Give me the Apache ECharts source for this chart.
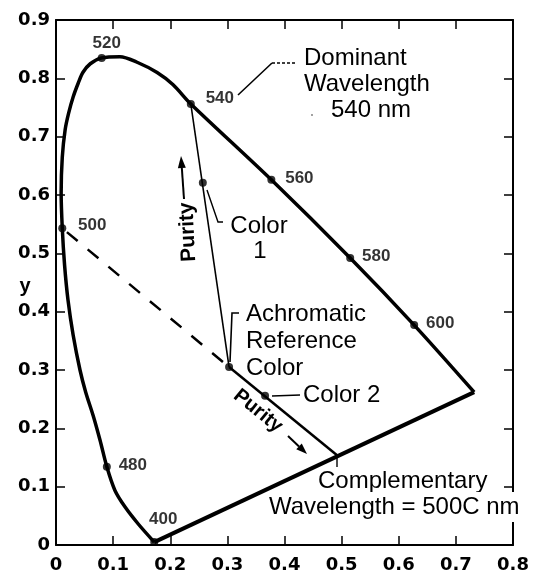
<!DOCTYPE html>
<html><head><meta charset="utf-8">
<script src="https://cdn.jsdelivr.net/npm/echarts@6/dist/echarts.min.js"></script>
<style>html,body{margin:0;padding:0;background:#fff}#c{width:534px;height:579px}</style>
</head><body><div id="c"></div>
<script>
// ---- data ----
const xTickValues = [0, 0.1, 0.2, 0.3, 0.4, 0.5, 0.6, 0.7, 0.8];
const yTickValues = [0, 0.1, 0.2, 0.3, 0.4, 0.5, 0.6, 0.7, 0.8, 0.9];
// spectral locus from 400 nm round to the red end
const locusX = [0.172,0.144,0.121,0.103,0.089,0.077,0.065,0.052,0.042,0.030,0.021,0.015,0.011,0.009,0.011,0.016,0.022,0.030,0.039,0.047,0.060,0.080,0.112,0.141,0.177,0.205,0.236,0.377,0.515,0.627,0.732];
const locusY = [0.005,0.036,0.065,0.094,0.134,0.180,0.222,0.262,0.300,0.360,0.420,0.480,0.543,0.604,0.665,0.712,0.740,0.768,0.792,0.810,0.825,0.835,0.837,0.828,0.810,0.789,0.756,0.626,0.492,0.377,0.262];
// line of purples
const purpleX = [0.732, 0.172];
const purpleY = [0.262, 0.005];
// wavelength markers
const wavelengths = ['400','480','500','520','540','560','580','600'];
const wavelengthX = [0.172,0.089,0.011,0.080,0.236,0.377,0.515,0.627];
const wavelengthY = [0.005,0.134,0.543,0.835,0.756,0.626,0.492,0.377];
// colour points: Color 1, achromatic reference, Color 2
const colorX = [0.257, 0.303, 0.366];
const colorY = [0.621, 0.305, 0.256];
// dominant (540) line, complementary line, dashed 500 line
const dominantX = [0.236, 0.303];
const dominantY = [0.756, 0.305];
const complementX = [0.303, 0.492];
const complementY = [0.305, 0.154];
const dashedX = [0.011, 0.303];
const dashedY = [0.543, 0.305];

// ---- layout / styling ----
const zip = (xs, ys) => xs.map((x, i) => [x, ys[i]]);
const labelOffsets = [[9,-23],[26,-2],[30,-3],[5,-15],[29,-6],[28,-2],[26,-2],[26,-2]];
const INK = '#000';
const TXT = 'Liberation Sans';

function arrowEls(p1, p2, headLen, headW, lw) {
  const dx = p2[0]-p1[0], dy = p2[1]-p1[1];
  const L = Math.hypot(dx, dy), ux = dx/L, uy = dy/L;
  const bx = p2[0]-ux*headLen, by = p2[1]-uy*headLen;
  const nx = -uy, ny = ux;
  return [
    {type:'line', z:100, shape:{x1:p1[0],y1:p1[1],x2:bx,y2:by}, style:{stroke:INK,lineWidth:lw}},
    {type:'polygon', z:100, shape:{points:[[p2[0],p2[1]],[bx+nx*headW/2,by+ny*headW/2],[bx-nx*headW/2,by-ny*headW/2]]}, style:{fill:INK}}
  ];
}
function txt(s, x, y, opt) {
  opt = opt || {};
  return {type:'text', z:100, x:x, y:y, rotation:opt.rot||0,
    style:Object.assign({text:s, fill:INK, fontSize:opt.size||24, fontFamily:TXT, fontWeight:opt.weight||'normal',
      align:opt.align||'left', verticalAlign:'middle'}, opt.extra||{})};
}
function poly(pts, lw, dash) {
  return {type:'polyline', z:100, shape:{points:pts}, style:{stroke:INK, lineWidth:lw||1.5, lineDash:dash||null, fill:null}};
}

const axisCommon = {
  type:'value', min:0, interval:0.1,
  axisLine:{show:true, onZero:false, lineStyle:{color:INK, width:2}},
  axisTick:{show:true, inside:true, length:9, lineStyle:{color:INK, width:1.5}},
  splitLine:{show:false}
};

const chart = echarts.init(document.getElementById('c'), null, {renderer:'canvas'});
chart.setOption({
  animation:false,
  backgroundColor:'#fff',
  grid:{left:56, right:21, top:20, bottom:34},
  xAxis:[
    Object.assign({}, axisCommon, {max:0.8, position:'bottom',
      axisLabel:{margin:11, color:INK, fontSize:18, fontWeight:'bold', fontFamily:'DejaVu Sans',
        formatter:v => String(xTickValues.find(t => Math.abs(t-v) < 1e-6) ?? v)}}),
    Object.assign({}, axisCommon, {max:0.8, position:'top', axisLabel:{show:false}})
  ],
  yAxis:[
    Object.assign({}, axisCommon, {max:0.9, position:'left',
      axisLabel:{margin:6, color:INK, fontSize:18, fontWeight:'bold', fontFamily:'DejaVu Sans',
        formatter:v => String(yTickValues.find(t => Math.abs(t-v) < 1e-6) ?? v)}}),
    Object.assign({}, axisCommon, {max:0.9, position:'right', axisLabel:{show:false}})
  ],
  series:[
    {type:'line', data:zip(locusX, locusY), smooth:0.3, symbol:'none', lineStyle:{color:INK, width:3.5, join:'round'}, z:3},
    {type:'line', data:zip(purpleX, purpleY), symbol:'none', lineStyle:{color:INK, width:4}, z:3},
    {type:'line', data:zip(dominantX, dominantY), symbol:'none', lineStyle:{color:INK, width:1.6}, z:3},
    {type:'line', data:zip(complementX, complementY), symbol:'none', lineStyle:{color:INK, width:2.5}, z:3},
    {type:'line', data:zip(dashedX, dashedY), symbol:'none', lineStyle:{color:INK, width:2.5, type:[14,13], dashOffset:-6}, z:3},
    {type:'scatter', symbol:'circle', symbolSize:8, itemStyle:{color:INK}, z:5,
      data:wavelengths.map((w, i) => ({value:[wavelengthX[i], wavelengthY[i]], name:w,
        label:{show:true, position:'inside', offset:labelOffsets[i], formatter:w,
          color:INK, fontSize:17, fontWeight:'bold', fontFamily:TXT}}))},
    {type:'scatter', symbol:'circle', symbolSize:8, itemStyle:{color:INK}, z:5, data:zip(colorX, colorY)}
  ],
  graphic:[
    txt('y', 25, 286, {size:20, weight:'bold', align:'center'}),
    // Dominant wavelength annotation
    txt('Dominant', 304, 58),
    txt('Wavelength', 304, 84),
    txt('540 nm', 331, 110),
    {type:'circle', z:100, shape:{cx:312, cy:115, r:0.9}, style:{fill:'#777'}},
    poly([[238,95],[272,63]], 1.6),
    poly([[272,63],[296,63]], 1.4, [3,2]),
    // Color 1
    txt('Color', 259, 226, {align:'center'}),
    txt('1', 260, 251, {align:'center'}),
    poly([[207,190],[218,222],[223,222]], 1.4),
    // Purity (vertical)
    txt('Purity', 188, 232, {size:21, weight:'bold', align:'center', rot:93*Math.PI/180}),
    ...arrowEls([184,199],[181,156],12,8,2),
    // Achromatic reference colour
    txt('Achromatic', 246, 314),
    txt('Reference', 246, 341),
    txt('Color', 246, 368),
    poly([[230,362],[232,313],[239,313]], 1.6),
    // Color 2
    txt('Color 2', 303, 395),
    poly([[272,396],[300,395]], 1.6),
    // Purity (diagonal)
    txt('Purity', 258, 411, {size:20, weight:'bold', align:'center', rot:-39*Math.PI/180}),
    ...arrowEls([288,436],[307,454],11,8,2),
    // complementary annotation
    poly([[337,455],[337,467]], 1.4),
    txt('Complementary', 318, 481),
    txt('Wavelength = 500C nm', 267, 507, {extra:{backgroundColor:'#fff', padding:[3,2]}})
  ]
});
</script></body></html>
